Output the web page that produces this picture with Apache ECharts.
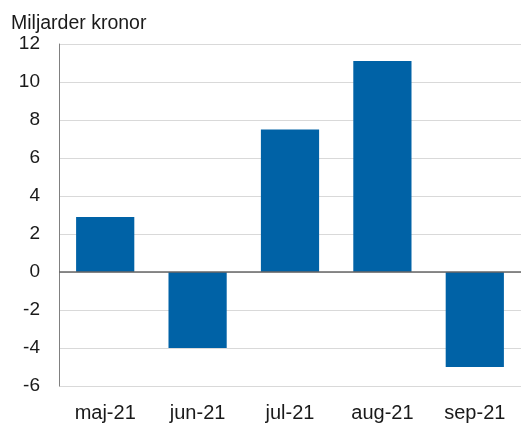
<!DOCTYPE html>
<html>
<head>
    <meta charset="utf-8"/>
    <title></title>
    <script src="https://cdn.jsdelivr.net/npm/echarts@6/dist/echarts.min.js"></script>
</head>
<body style="margin:0;">
<div id="main" style="width:521px;height:423px;"></div>
<script type="text/javascript">
    /* data */
    var months = ['maj-21', 'jun-21', 'jul-21', 'aug-21', 'sep-21'];
    var values = [2.9, -4.0, 7.5, 11.1, -5.0];
    var yTicks = {min: -6, max: 12, step: 2};

    var font = 'Liberation Sans, Arial, sans-serif';
    var chart = echarts.init(document.getElementById('main'));

    var option = {
        animation: false,
        title: {
            text: 'Miljarder kronor',
            left: 6,
            top: 9,
            textStyle: {fontFamily: font, fontSize: 19.5, fontWeight: 'normal', color: '#1a1a1a'}
        },
        grid: {left: 59, right: 0, top: 44, bottom: 37},
        xAxis: {
            type: 'category',
            data: months,
            axisLine: {show: false, onZero: false},
            axisTick: {show: false},
            axisLabel: {fontFamily: font, fontSize: 20, color: '#1a1a1a', margin: 17}
        },
        yAxis: {
            type: 'value',
            min: yTicks.min,
            max: yTicks.max,
            interval: yTicks.step,
            axisLine: {show: true, lineStyle: {color: '#808080', width: 1}},
            axisTick: {show: false},
            splitLine: {lineStyle: {color: '#d9d9d9', width: 1}},
            axisLabel: {fontFamily: font, fontSize: 19, color: '#1a1a1a', margin: 19}
        },
        series: [{
            type: 'bar',
            data: values,
            barWidth: '63%',
            itemStyle: {color: '#0062a6'},
            markLine: {
                silent: true,
                symbol: 'none',
                label: {show: false},
                lineStyle: {color: '#666666', width: 1.5, type: 'solid'},
                data: [{yAxis: 0}]
            }
        }]
    };

    chart.setOption(option);
    window.onresize = chart.resize;
</script>
</body>
</html>
